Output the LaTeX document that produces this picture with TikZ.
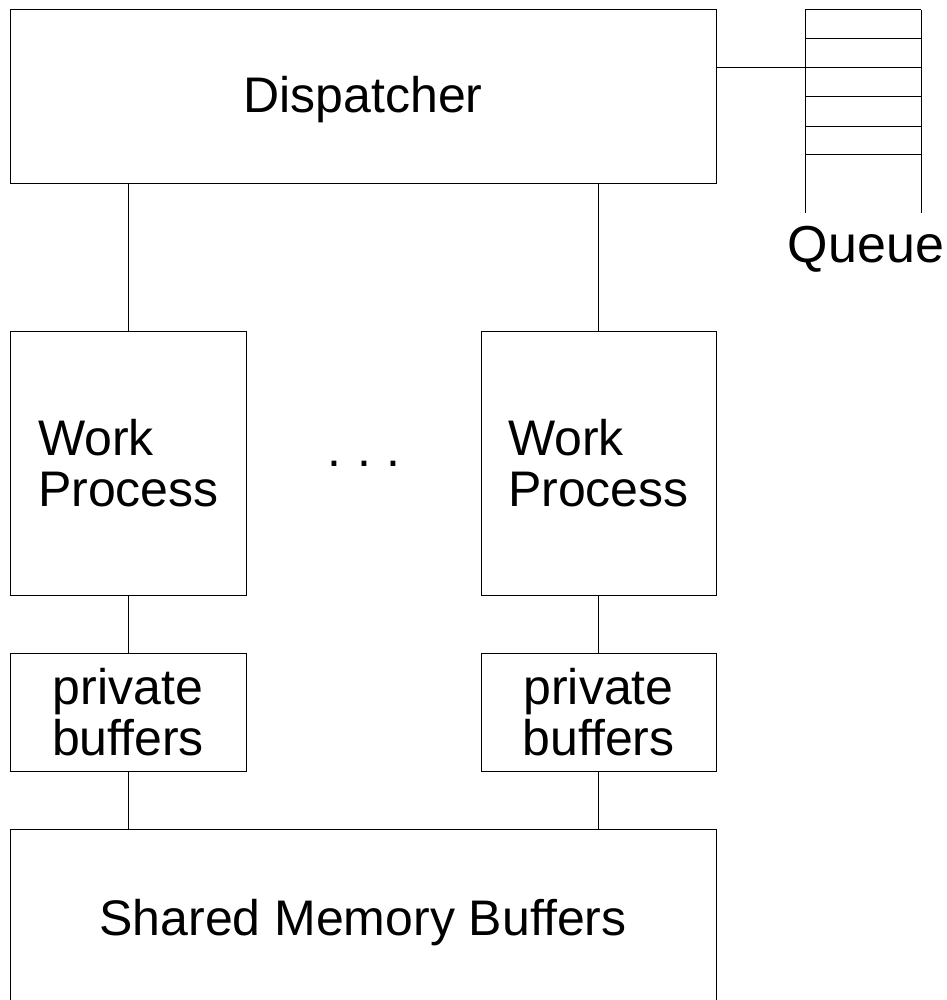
\documentclass[tikz,border=0pt]{standalone}
\usepackage{fontspec}
\setmainfont{Liberation Sans}[Ligatures=NoCommon]
\begin{document}
\begin{tikzpicture}[x=1pt, y=-1pt,
  box/.style={draw=black, line width=1pt, rectangle, inner sep=0pt, outer sep=0pt},
  wire/.style={draw=black, line width=1pt},
  lbl/.style={font=\fontsize{50}{51}\selectfont, inner sep=0pt, outer sep=0pt}]
  \useasboundingbox (0,0) rectangle (946,1000);

  % boxes
  \node[box, minimum width=706pt, minimum height=174pt] (disp) at (363,97) {};
  \node[box, minimum width=236pt, minimum height=264pt] (wp1) at (128,463) {};
  \node[box, minimum width=235pt, minimum height=264pt] (wp2) at (598.5,463) {};
  \node[box, minimum width=236pt, minimum height=118pt] (pb1) at (128,712) {};
  \node[box, minimum width=235pt, minimum height=118pt] (pb2) at (598.5,712) {};
  \node[box, minimum width=706pt, minimum height=190pt] (shm) at (363,924) {};

  % labels
  \node[lbl, anchor=base] (tdisp) at (363,113) {Dispatcher};
  \node[lbl, anchor=north west, align=left] (twp1) at (38,419) {Work\\Process};
  \node[lbl, anchor=north west, align=left] (twp2) at (508,419) {Work\\Process};
  \node[lbl, anchor=north, align=center] (tpb1) at (128,668) {private\\buffers};
  \node[lbl, anchor=north, align=center] (tpb2) at (598.5,668) {private\\buffers};
  \node[lbl, anchor=base] (tshm) at (363,935) {Shared Memory Buffers};
  \node[lbl, anchor=base] (dots) at (364,466) {.\hspace{16pt}.\hspace{16pt}.};
  \node[lbl, anchor=base, font=\fontsize{52}{54}\selectfont] (tq) at (866,262) {Queue};

  % queue slots
  \coordinate (qtl) at (805,10);
  \coordinate (qtr) at (921,10);
  \coordinate (qbl) at (805,213);
  \coordinate (qbr) at (921,213);
  \draw[wire] (qtl) -- (qbl);
  \draw[wire] (qtr) -- (qbr);
  \foreach \y in {10,38.5,68,97,126.5,155} {
    \draw[wire] (805,\y) -- (921,\y);
  }
  \coordinate (qin) at (805,68);

  % connectors
  \draw[wire] (disp.east |- qin) -- (qin);
  \draw[wire] (disp.south -| wp1.north) -- (wp1.north);
  \draw[wire] (disp.south -| wp2.north) -- (wp2.north);
  \draw[wire] (wp1.south) -- (pb1.north);
  \draw[wire] (wp2.south) -- (pb2.north);
  \draw[wire] (pb1.south) -- (shm.north -| pb1.south);
  \draw[wire] (pb2.south) -- (shm.north -| pb2.south);
\end{tikzpicture}
\end{document}
